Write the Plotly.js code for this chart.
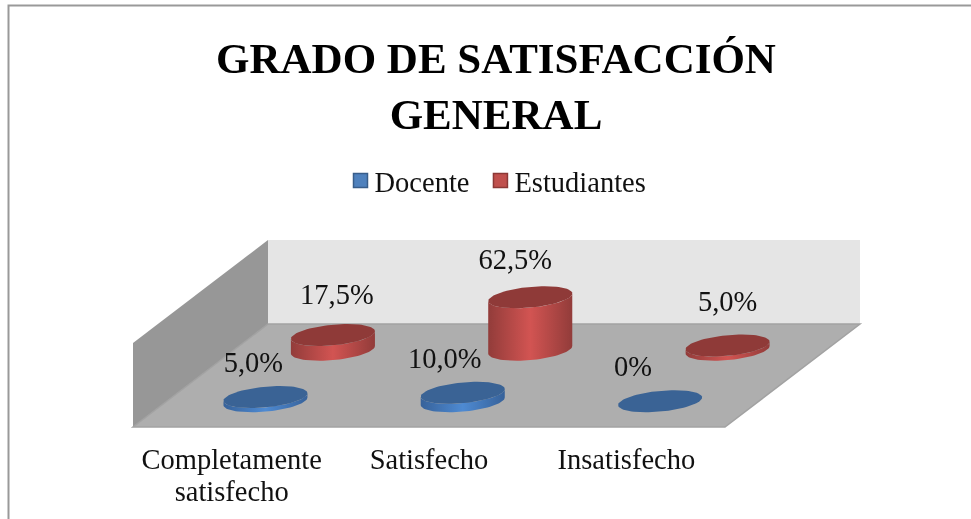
<!DOCTYPE html>
<html>
<head>
<meta charset="utf-8">
<script src="https://cdn.plot.ly/plotly-3.0.1.min.js"></script>
<style>html,body{margin:0;padding:0;background:#fff}#chart{width:971px;height:519px;filter:blur(0.45px)}</style>
</head>
<body>
<div id="chart"></div>
<script>
// ---- data ----
const categories = ['Completamente<br>satisfecho', 'Satisfecho', 'Insatisfecho'];
const docente = [5.0, 10.0, 0];
const estudiantes = [17.5, 62.5, 5.0];
const docenteLabels = ['5,0%', '10,0%', '0%'];
const estudiantesLabels = ['17,5%', '62,5%', '5,0%'];
const titleText = 'GRADO DE SATISFACCIÓN<br>GENERAL';

// ---- 3D-look projection on the chart's own axes ----
// x unit = one category, y unit = one percent
const W = 971, H = 519;
const pxPerCat = 197.33, pxPerPct = 0.84, x0px = 133, y0px = 427;
const maxV = 100;
const depthX = 135 / pxPerCat, depthY = 103 / pxPerPct;   // shear of the floor
const halfW = 0.2, halfD = 0.107;                          // cylinder radii
const FONT = '"Liberation Serif", serif';
const TXT = 28.5;
const px = p => (p - x0px) / pxPerCat;
const py = p => (y0px - p) / pxPerPct;
const proj = (c, d, v) => [c + d * depthX, v + d * depthY];

const traces = [];
function arc(c, d, v, from, to, n) {
  const xs = [], ys = [];
  for (let i = 0; i <= n; i++) {
    const t = from + (to - from) * i / n;
    const p = proj(c + halfW * Math.cos(t), d + halfD * Math.sin(t), v);
    xs.push(p[0]); ys.push(p[1]);
  }
  return [xs, ys];
}
function cylinder(i, d, v, top, edge, mid) {
  const c = i + 0.5;
  const t0 = Math.atan2(halfD * depthX, halfW);
  const low = arc(c, d, 0, t0, t0 - Math.PI, 40);
  const high = arc(c, d, v, t0 - Math.PI, t0, 40);
  const xs = low[0].concat(high[0]), ys = low[1].concat(high[1]);
  if (v > 0) {
    traces.push({
      type: 'scatter', mode: 'lines', x: xs, y: ys, fill: 'toself',
      line: {width: 0, color: edge}, showlegend: false, hoverinfo: 'skip',
      fillcolor: mid,
      fillgradient: {type: 'horizontal', start: Math.min(...xs), stop: Math.max(...xs),
        colorscale: [[0, edge], [0.5, mid], [1, edge]]}
    });
  }
  const e = arc(c, d, v, 0, 2 * Math.PI, 80);
  traces.push({
    type: 'scatter', mode: 'lines', x: e[0], y: e[1], fill: 'toself',
    line: {width: 0, color: top}, fillcolor: top, showlegend: false, hoverinfo: 'skip'
  });
}
const dRed = 0.75, dBlue = 0.25;
estudiantes.forEach((v, i) => cylinder(i, dRed, v, '#8f3a38', '#923c3a', '#d25452'));
docente.forEach((v, i) => cylinder(i, dBlue, v, '#3a6395', '#37629a', '#4e8ad2'));

// data labels, nudged like the hand-placed originals (pixel offsets)
const blueNudge = [[-12, -32], [-18, -32], [-27, -32]];
const redNudge = [[4, -38], [-15, -35], [0, -42]];
function labelTrace(vals, labels, d, nudge) {
  const xs = [], ys = [];
  vals.forEach((v, i) => {
    const p = proj(i + 0.5, d, v);
    xs.push(p[0] + nudge[i][0] / pxPerCat);
    ys.push(p[1] - nudge[i][1] / pxPerPct);
  });
  traces.push({type: 'scatter', mode: 'text', x: xs, y: ys, text: labels,
    textposition: 'middle center', textfont: {family: FONT, size: TXT, color: '#111'},
    cliponaxis: false, showlegend: false, hoverinfo: 'skip'});
}
labelTrace(docente, docenteLabels, dBlue, blueNudge);
labelTrace(estudiantes, estudiantesLabels, dRed, redNudge);

// legend entries
traces.push({type: 'scatter', mode: 'markers', x: [null], y: [null], name: 'Docente',
  marker: {symbol: 'square', size: 14, color: '#4f81bd', line: {color: '#385d8a', width: 1.5}}});
traces.push({type: 'scatter', mode: 'markers', x: [null], y: [null], name: 'Estudiantes',
  marker: {symbol: 'square', size: 14, color: '#c0504d', line: {color: '#8c3836', width: 1.5}}});

// box walls
const n = categories.length;
const poly = pts => {
  const m = pts.map(p => proj(p[0], p[1], p[2]));
  return 'M' + m.map(q => q[0] + ',' + q[1]).join('L') + 'Z';
};
const shapes = [
  {type: 'path', path: poly([[0, 1, 0], [n, 1, 0], [n, 1, maxV], [0, 1, maxV]]), fillcolor: '#e5e5e5', line: {width: 0}, layer: 'below'},
  {type: 'path', path: poly([[0, 0, 0], [0, 1, 0], [0, 1, maxV], [0, 0, maxV]]), fillcolor: '#979797', line: {width: 0}, layer: 'below'},
  {type: 'path', path: poly([[0, 0, 0], [n, 0, 0], [n, 1, 0], [0, 1, 0]]), fillcolor: '#aeaeae', line: {width: 1.5, color: '#a2a2a2'}, layer: 'below'},
  // chart frame, open at the right and bottom where the picture is cropped
  {type: 'path', xref: 'paper', yref: 'paper',
   path: 'M' + (8.5 / W) + ',0 L' + (8.5 / W) + ',' + (1 - 5.5 / H) + ' L1,' + (1 - 5.5 / H),
   line: {color: '#999999', width: 2}, layer: 'below'}
];

const layout = {
  width: W, height: H,
  margin: {l: 0, r: 0, t: 0, b: 0},
  paper_bgcolor: '#fff', plot_bgcolor: 'rgba(0,0,0,0)',
  title: {text: titleText, x: 496 / W, xanchor: 'center', y: 1 - 73 / H, yanchor: 'top',
    font: {family: FONT, size: 43, color: '#000', weight: 'bold'}},
  showlegend: true,
  legend: {orientation: 'h', x: 493 / W, xanchor: 'center', y: 1 - 181 / H, yanchor: 'middle',
    font: {family: FONT, size: TXT, color: '#111'}, bgcolor: 'rgba(0,0,0,0)', itemwidth: 30},
  xaxis: {range: [px(0), px(W)], showgrid: false, zeroline: false, showline: false,
    tickmode: 'array', tickvals: categories.map((_, i) => i + 0.5), ticktext: categories,
    ticks: 'outside', ticklen: 7, tickcolor: 'rgba(0,0,0,0)', tickangle: 0,
    tickfont: {family: FONT, size: TXT, color: '#111'},
    anchor: 'free', position: 1 - y0px / H, fixedrange: true},
  yaxis: {range: [py(H), py(0)], visible: false, fixedrange: true},
  shapes: shapes
};
Plotly.newPlot('chart', traces, layout, {displayModeBar: false, staticPlot: true}).then(gd => {
  // tighter line spacing on the two-line tick label, as in the reference
  gd.querySelectorAll('.xtick text tspan.line').forEach(t => {
    if (t.getAttribute('y') && t.textContent === 'satisfecho') {
      t.setAttribute('y', parseFloat(t.getAttribute('y')) - 5);
    }
  });
  // legend swatches sit closer to their text
  gd.querySelectorAll('.legend .legendsymbols').forEach(s => s.setAttribute('transform', 'translate(6,0)'));
});
</script>
</body>
</html>
